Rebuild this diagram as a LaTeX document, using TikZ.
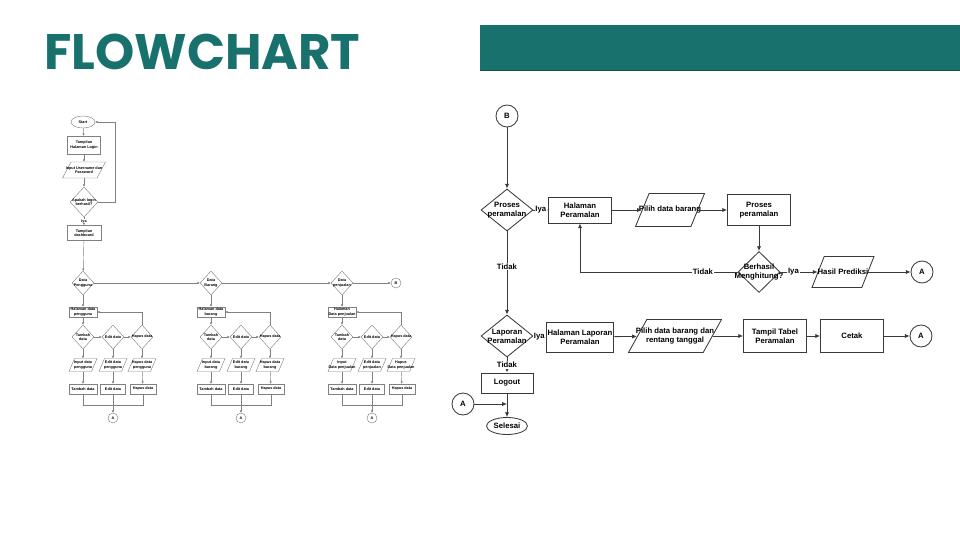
\documentclass[tikz,border=0pt]{standalone}
\usepackage{fontspec}
\setmainfont{Liberation Sans}
\newfontfamily\headfont{Poppins}
\usepackage{xcolor}
\usepackage{tikz}
\usetikzlibrary{shapes.geometric,arrows.meta,positioning}

\definecolor{bandteal}{HTML}{19716D}
\definecolor{lnright}{HTML}{3A3A3A}
\definecolor{lnleft}{HTML}{808080}

\begin{document}
\begin{tikzpicture}[
  x=0.25mm, y=-0.25mm,
  font=\fontsize{5.5}{6.4}\selectfont\bfseries,
  every label/.style={align=center, inner sep=0pt},
  ln/.style={draw=lnright, line width=0.6pt},
  ar/.style={ln, -{Latex[length=3.4pt,width=3pt]}},
  lbl/.style={fill=white, inner sep=0.6pt},
  box/.style={ln, rectangle, fill=white, minimum width=15.75mm, minimum height=7.5mm, inner sep=1pt, align=center},
  dec/.style={ln, diamond, fill=white, inner sep=0pt, minimum width=13mm, minimum height=10.5mm},
  io/.style={ln, trapezium, trapezium left angle=72, trapezium right angle=108, trapezium stretches=true, fill=white, inner sep=1pt, minimum height=8.25mm},
  con/.style={ln, circle, fill=white, minimum size=5.5mm, inner sep=0pt},
  term/.style={ln, ellipse, fill=white, minimum width=10.25mm, minimum height=4.25mm, inner sep=0pt},
  sln/.style={draw=lnleft, line width=0.3pt},
  sar/.style={sln, -{Latex[length=1.7pt,width=1.6pt]}},
  sbox/.style={sln, rectangle, fill=white, minimum width=7mm, minimum height=2.5mm, inner sep=0.4pt, align=center},
  sdec/.style={sln, diamond, fill=white, inner sep=0pt, minimum width=5.5mm, minimum height=6mm},
  sio/.style={sln, trapezium, trapezium left angle=72, trapezium right angle=108, trapezium stretches=true, fill=white, inner sep=0.5pt, minimum width=7mm, minimum height=3.25mm},
  scon/.style={sln, circle, fill=white, minimum size=2.5mm, inner sep=0pt},
]
\useasboundingbox[fill=white] (0,0) rectangle (960,540);

% header
\fill[bandteal] (480,25) rectangle (960,71);
\draw[bandteal!70!black, line width=0.4pt] (480,70.6) -- (960,70.6);
\node[anchor=base west, inner sep=0pt, text=bandteal, font=\headfont\bfseries\fontsize{35.5}{36}\selectfont] (title) at (44,69) {FLOWCHART};

% forecasting flow
\node[con] (B) at (507,116) {B};
\node[dec, label={center:Proses\\peramalan}] (pp) at (507,210) {};
\node[box, minimum height=6.5mm] (hp) at (580,210) {Halaman\\Peramalan};
\node[io, minimum width=17.25mm, label={center:Pilih data barang}] (pdb) at (670,210) {};
\node[box, minimum height=7.75mm] (prp) at (759,210) {Proses\\peramalan};
\node[dec, minimum width=10.5mm, minimum height=10.25mm, label={center:Berhasil\\Menghitung?}] (bh) at (759,272) {};
\node[io, minimum width=15.5mm, minimum height=7.75mm, label={center:Hasil Prediksi}] (hpred) at (843,272) {};
\node[con] (A1) at (922,272) {A};

\node[dec, label={center:Laporan\\Peramalan}] (lp) at (507,336) {};
\node[box, minimum width=16mm] (hlp) at (580,337) {Halaman Laporan\\Peramalan};
\node[io, minimum width=23.25mm, label={center:Pilih data barang dan\\rentang tanggal}] (pdr) at (675,336) {};
\node[box, minimum height=8.25mm] (ttp) at (775,336) {Tampil Tabel\\Peramalan};
\node[box, minimum height=8.25mm] (cetak) at (852,336) {Cetak};
\node[con] (A2) at (921,336) {A};

\node[box, minimum width=13mm, minimum height=5mm] (logout) at (507,383) {Logout};
\node[con] (A3) at (463,404) {A};
\node[term] (sel) at (507,426) {Selesai};
\coordinate (join) at (A3 -| sel);

\draw[ar] (B) -- (pp);
\draw[ar] (pp) -- node[lbl] {Iya} (hp);
\draw[ar] (hp) -- (pdb);
\draw[ar] (pdb) -- (prp);
\draw[ar] (prp) -- (bh);
\draw[ar] (bh) -| node[lbl, pos=0.11] {Tidak} (hp);
\draw[ar] (bh) -- node[lbl, pos=0.35] {Iya} (hpred);
\draw[ar] (hpred) -- (A1);
\draw[ar] (pp) -- node[lbl, pos=0.42] {Tidak} (lp);
\draw[ar] (lp) -- node[lbl] {Iya} (hlp);
\draw[ar] (hlp) -- (pdr);
\draw[ar] (pdr) -- (ttp);
\draw[ar] (ttp) -- (cetak);
\draw[ar] (cetak) -- (A2);
\draw[ar] (lp) -- node[lbl] {Tidak} (logout);
\draw[ar] (logout) -- (sel);
\draw[ar] (A3) -- (join);

% master data flow
\begin{scope}[font=\fontsize{2.7}{3.1}\selectfont\bfseries]
\node[sln, ellipse, fill=white, minimum width=6mm, minimum height=3mm, inner sep=0pt] (start) at (83,122) {Start};
\node[sbox, minimum width=8.25mm, minimum height=4.5mm] (login) at (84,145) {Tampilan\\Halaman Login};
\node[sio, minimum width=10.75mm, minimum height=4mm, label={center:Input Username dan\\Password}] (upw) at (84,170) {};
\node[sdec, minimum width=7mm, minimum height=7.5mm, label={center:Apakah login\\berhasil?}] (akh) at (84,202) {};
\node[sbox, minimum width=8.5mm, minimum height=3.75mm] (dash) at (84,233) {Tampilan\\dashboard};

\draw[sar] (start) -- (login);
\draw[sar] (login) -- (upw);
\draw[sar] (upw) -- (akh);
\draw[sar] (akh.east) -- ++(17,0) |- (start.east);
\draw[sar] (akh) -- node[fill=white, inner sep=0.3pt] {Iya} (dash);

\foreach \x/\k/\dat/\hal/\inp/\edt/\hps in {
  83/1/{Data\\Pengguna}/{Halaman data\\pengguna}/{Input data\\pengguna}/{Edit data\\pengguna}/{Hapus data\\pengguna},
  211/2/{Data\\Barang}/{Halaman data\\barang}/{Input data\\barang}/{Edit data\\barang}/{Hapus data\\barang},
  342/3/{Data\\penjualan}/{Halaman\\Data  penjualan}/{Input\\Data  penjualan}/{Edit data\\penjualan}/{Hapus\\Data  penjualan}}
{
  \node[sdec, label={center:\dat}] (d\k) at (\x,283) {};
  \node[sbox] (h\k) at (\x,312) {\hal};
  \node[sdec, label={center:Tambah\\data}] (t\k) at (\x,337) {};
  \node[sdec, label={center:Edit data}] (e\k) at (\x+30,337) {};
  \node[sdec, label={center:Hapus data}] (r\k) at (\x+59,337) {};
  \node[sio, label={center:\inp}] (ti\k) at (\x,365) {};
  \node[sio, label={center:\edt}] (ei\k) at (\x+30,365) {};
  \node[sio, label={center:\hps}] (ri\k) at (\x+59,365) {};
  \node[sbox] (tb\k) at (\x,389) {Tambah data};
  \node[sbox, minimum width=6.25mm] (eb\k) at (\x+30,389) {Edit data};
  \node[sbox, minimum width=6.5mm] (rb\k) at (\x+60,389) {Hapus data};
  \node[scon] (a\k) at (\x+30,418) {A};

  \draw[sar] (d\k) -- (h\k);
  \draw[sar] (h\k) -- (t\k);
  \draw[sar] (t\k) -- (e\k);
  \draw[sar] (e\k) -- (r\k);
  \draw[sar] (r\k) |- (h\k);
  \draw[sar] (t\k) -- (ti\k);
  \draw[sar] (e\k) -- (ei\k);
  \draw[sar] (r\k) -- (ri\k);
  \draw[sar] (ti\k) -- (tb\k);
  \draw[sar] (ei\k) -- (eb\k);
  \draw[sar] (ri\k) -- (rb\k);
  \draw[sln] (tb\k.south) -- ++(0,11) -| (rb\k.south);
  \draw[sar] (eb\k) -- (a\k);
}
\node[scon] (Bs) at (396,283) {B};

\draw[sar] (dash) -- (d1);
\draw[sar] (d1) -- (d2);
\draw[sar] (d2) -- (d3);
\draw[sar] (d3) -- (Bs);
\end{scope}
\end{tikzpicture}
\end{document}
